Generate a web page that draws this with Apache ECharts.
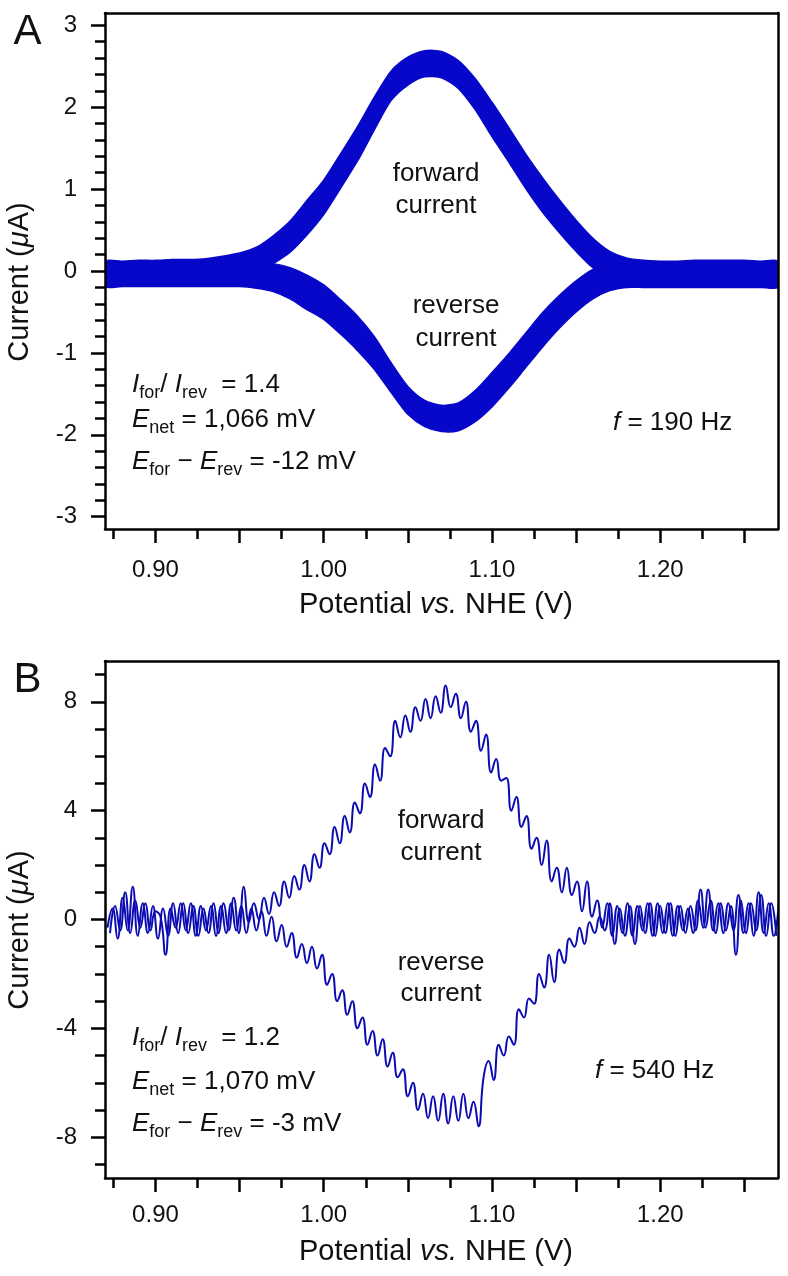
<!DOCTYPE html>
<html><head><meta charset="utf-8">
<script src="https://cdn.jsdelivr.net/npm/echarts@6/dist/echarts.min.js"></script>
<style>html,body{margin:0;padding:0;background:#fff}#c{width:788px;height:1276px}</style>
</head><body><div id="c"></div>
<script>
// ---------------- Panel A data (noisy band: centre + vertical half-width of the noise) ----------------
const A_potential = [0.87,0.88,0.89,0.90,0.91,0.92,0.93,0.94,0.95,0.96,
  0.97,0.98,0.99,1.00,1.01,1.02,1.03,1.04,1.05,1.06,
  1.07,1.08,1.09,1.10,1.11,1.12,1.13,1.14,1.15,1.16,
  1.17,1.18,1.19,1.20,1.21,1.22,1.23,1.24,1.25,1.26,1.27];
const A_forward = [-0.03,-0.03,-0.02,-0.02,-0.01,-0.01,0.00,0.03,0.07,0.13,
  0.26,0.42,0.65,0.90,1.22,1.55,1.92,2.26,2.44,2.53,
  2.52,2.40,2.16,1.85,1.54,1.22,0.93,0.67,0.43,0.22,
  0.08,0.01,-0.02,-0.03,-0.03,-0.02,-0.02,-0.02,-0.02,-0.03,-0.03];
const A_reverse = [-0.04,-0.04,-0.04,-0.04,-0.04,-0.04,-0.04,-0.04,-0.04,-0.05,
  -0.08,-0.15,-0.26,-0.38,-0.56,-0.76,-1.00,-1.30,-1.58,-1.74,
  -1.80,-1.78,-1.65,-1.45,-1.22,-0.97,-0.72,-0.50,-0.31,-0.16,
  -0.08,-0.05,-0.05,-0.05,-0.05,-0.05,-0.05,-0.05,-0.05,-0.05,-0.05];
const A_noiseHalfWidth = [0.15,0.15,0.15,0.15,0.15,0.15,0.15,0.15,0.15,0.16,
  0.17,0.19,0.21,0.21,0.21,0.21,0.20,0.18,0.17,0.16,
  0.16,0.17,0.19,0.21,0.21,0.21,0.21,0.20,0.19,0.18,
  0.16,0.15,0.15,0.15,0.15,0.15,0.15,0.15,0.15,0.15,0.15];
const A_yLabels = [-3,-2,-1,0,1,2,3];
const A_yMinor = [-3,-2.8,-2.6,-2.4,-2.2,-2,-1.8,-1.6,-1.4,-1.2,-1,-0.8,-0.6,-0.4,-0.2,0,
  0.2,0.4,0.6,0.8,1,1.2,1.4,1.6,1.8,2,2.2,2.4,2.6,2.8,3];

const B_step = 0.003;
const B_forwardStart = 0.8715;
const B_reverseStart = 0.8730;
const B_forward = [
  -0.3,0.4,-0.7,0.8,-0.4,1.2,-0.6,0.6,-0.5,0.5,
  -0.7,0.4,-0.6,0.6,-0.5,0.6,-0.5,0.5,-0.6,0.4,
  -0.5,0.6,-0.5,0.6,-0.4,0.8,-0.5,1.2,-0.1,0.6,
  0.0,0.8,0.2,1.0,0.5,1.4,0.8,1.6,1.1,2.0,
  1.4,2.4,1.9,2.8,2.4,3.4,2.8,3.8,3.2,4.3,
  3.9,5.0,4.5,5.7,5.1,6.3,6.0,7.3,6.7,7.5,
  6.9,7.8,7.3,8.1,7.4,8.2,7.6,8.6,7.8,8.3,
  7.4,8.0,6.9,7.3,6.2,6.8,5.4,5.9,5.1,5.2,
  4.0,4.5,3.4,3.8,2.6,3.0,2.0,2.9,1.4,1.9,
  1.0,1.9,0.9,1.4,0.3,1.4,0.1,0.7,-0.3,0.6,
  -0.6,0.5,-0.5,0.6,-0.6,0.5,-0.4,0.6,-0.6,0.6,
  -0.5,0.6,-0.6,0.5,-0.4,0.4,-0.5,0.7,-0.3,1.1,
  -0.4,0.6,-0.5,0.6,-0.4,0.9,-0.5,0.6,-0.6,1.0,
  -0.5,0.6,-0.6,0.6];
const B_reverse = [
  -0.5,0.5,-0.4,1.0,-0.5,0.7,-0.3,0.6,-0.4,0.3,
  0.1,-1.3,0.4,-0.3,0.6,-0.4,0.6,-0.6,0.5,-0.4,
  0.5,-0.6,0.5,-0.5,0.6,-0.4,0.5,-0.5,0.4,-0.4,
  0.3,-0.6,0.1,-0.8,-0.2,-1.0,-0.5,-1.4,-0.9,-1.6,
  -1.0,-1.8,-1.3,-2.4,-2.0,-3.0,-2.6,-3.5,-3.0,-4.0,
  -3.6,-4.6,-4.1,-5.0,-4.4,-5.4,-4.9,-5.8,-5.5,-6.5,
  -6.0,-7.0,-6.4,-7.3,-6.5,-7.4,-6.4,-7.5,-6.5,-7.4,
  -6.4,-7.3,-6.7,-7.6,-5.8,-5.2,-5.9,-4.6,-5.0,-4.3,
  -4.6,-3.3,-3.6,-2.9,-3.1,-2.0,-2.5,-1.3,-2.3,-1.1,
  -1.6,-0.7,-1.0,-0.3,-0.9,-0.1,-0.5,0.1,-0.4,0.6,
  -0.9,0.4,-0.6,0.5,-0.9,0.5,-0.5,0.6,-0.6,0.5,
  -0.5,0.6,-0.6,0.5,-0.5,0.5,-0.4,1.1,-0.3,0.7,
  -0.5,0.6,-0.4,0.5,-1.3,0.7,-0.5,0.6,-0.4,0.9,
  -0.6,0.6,-0.6];
const B_yLabels = [-8,-4,0,4,8];
const B_yMinor = [-9,-8,-7,-6,-5,-4,-3,-2,-1,0,1,2,3,4,5,6,7,8,9];

// ---------------- shared x axis ----------------
const X_MIN = 0.87, X_MAX = 1.27;
const xLabels = [0.90,1.00,1.10,1.20];
const xMajorTicks = [0.90,0.95,1.00,1.05,1.10,1.15,1.20,1.25];
const xMinorTicks = [0.875,0.925,0.975,1.025,1.075,1.125,1.175,1.225];

const FONT = '"Liberation Sans", Arial, Helvetica, sans-serif';
const INK = '#111';
const BLUE_A = '#0707c9';
const BLUE_B = '#0b0bb2';

function xAxes(g, margin) {
  return [
    {gridIndex:g,type:'value',min:X_MIN,max:X_MAX,position:'bottom',z:10,
     axisLine:{show:true,onZero:false,lineStyle:{color:'#000',width:2.5}},
     axisTick:{show:true,inside:false,length:14,customValues:xMajorTicks,lineStyle:{color:'#000',width:2.5}},
     axisLabel:{show:true,customValues:xLabels,formatter:v=>v.toFixed(2),fontSize:24,fontFamily:FONT,color:INK,margin:margin},
     splitLine:{show:false}},
    {gridIndex:g,type:'value',min:X_MIN,max:X_MAX,position:'bottom',z:10,
     axisLine:{show:false,onZero:false},
     axisTick:{show:true,inside:false,length:10,customValues:xMinorTicks,lineStyle:{color:'#000',width:2.5}},
     axisLabel:{show:false},splitLine:{show:false}},
    {gridIndex:g,type:'value',min:X_MIN,max:X_MAX,position:'top',z:10,
     axisLine:{show:true,onZero:false,lineStyle:{color:'#000',width:2.5}},
     axisTick:{show:false},axisLabel:{show:false},splitLine:{show:false}}
  ];
}
function yAxes(g, lim, labels, minor) {
  return [
    {gridIndex:g,type:'value',min:-lim,max:lim,position:'left',z:10,
     axisLine:{show:true,onZero:false,lineStyle:{color:'#000',width:2.5}},
     axisTick:{show:true,inside:false,length:14,customValues:labels,lineStyle:{color:'#000',width:2.5}},
     axisLabel:{show:true,customValues:labels,formatter:v=>String(v),fontSize:24,fontFamily:FONT,color:INK,margin:28},
     splitLine:{show:false}},
    {gridIndex:g,type:'value',min:-lim,max:lim,position:'left',z:10,
     axisLine:{show:false,onZero:false},
     axisTick:{show:true,inside:false,length:10,customValues:minor,lineStyle:{color:'#000',width:2.5}},
     axisLabel:{show:false},splitLine:{show:false}},
    {gridIndex:g,type:'value',min:-lim,max:lim,position:'right',z:10,
     axisLine:{show:true,onZero:false,lineStyle:{color:'#000',width:2.5}},
     axisTick:{show:false},axisLabel:{show:false},splitLine:{show:false}}
  ];
}

// Noisy band of panel A: one polygon (upper edge forward, lower edge back), placed through the axes
function bandSeries(center) {
  return {
    type:'custom', xAxisIndex:0, yAxisIndex:0, silent:true, z:2,
    data: A_potential.map((v,i)=>[v, center[i]]),
    renderItem: function (params, api) {
      if (params.dataIndex !== 0) return null;
      const up = [], lo = [];
      for (let i = 0; i < A_potential.length; i++) {
        up.push(api.coord([A_potential[i], center[i] + A_noiseHalfWidth[i]]));
        lo.push(api.coord([A_potential[i], center[i] - A_noiseHalfWidth[i]]));
      }
      const cs = params.coordSys;
      return {
        type:'polygon',
        shape:{points: up.concat(lo.reverse()), smooth:0.25},
        style:{fill:BLUE_A, stroke:BLUE_A, lineWidth:1.5},
        clipPath:{type:'rect', shape:{x:cs.x, y:cs.y, width:cs.width, height:cs.height}}
      };
    }
  };
}
function traceSeries(start, vals) {
  return {type:'line',xAxisIndex:3,yAxisIndex:3,symbol:'none',smooth:0.5,silent:true,
    data: vals.map((y,i)=>[start + i*B_step, y]),
    lineStyle:{width:2,color:BLUE_B},z:2};
}

function mkRich(fs) {
  return {
    n:{fontSize:fs,fontFamily:FONT,fill:INK,lineHeight:34,verticalAlign:'middle'},
    i:{fontSize:fs,fontFamily:FONT,fontStyle:'italic',fill:INK,lineHeight:34,verticalAlign:'middle'},
    s:{fontSize:Math.round(fs*0.68),fontFamily:FONT,fill:INK,lineHeight:18,verticalAlign:'bottom'}
  };
}
function txt(x, y, text, fs, align, extra) {
  return Object.assign({type:'text',x:x,y:y,silent:true,z:100,
    style:{text:text,fontSize:fs,fontFamily:FONT,fill:INK,align:align,verticalAlign:'middle',
      textAlign:align,textVerticalAlign:'middle',rich:mkRich(fs)}}, extra||{});
}
const AF = 26;
const graphics = [
  txt(27.5, 32, 'A', 42, 'center'),
  txt(27.5, 680, 'B', 42, 'center'),
  txt(436, 605, '{n|Potential }{i|vs.}{n| NHE (V)}', 29, 'center'),
  txt(436, 1252, '{n|Potential }{i|vs.}{n| NHE (V)}', 29, 'center'),
  txt(20, 282, '{n|Current (}{i|\u03BC}{n|A)}', 29, 'center', {rotation:Math.PI/2}),
  txt(20, 930, '{n|Current (}{i|\u03BC}{n|A)}', 29, 'center', {rotation:Math.PI/2}),
  // panel A annotations
  txt(436, 174, 'forward', AF, 'center'),
  txt(436, 206, 'current', AF, 'center'),
  txt(456, 306, 'reverse', AF, 'center'),
  txt(456, 339, 'current', AF, 'center'),
  txt(132, 385, '{i|I}{s|for}{n|/ }{i|I}{s|rev}{n|  = 1.4}', AF, 'left'),
  txt(132, 420, '{i|E}{s|net}{n| = 1,066 mV}', AF, 'left'),
  txt(132, 462, '{i|E}{s|for}{n| \u2212 }{i|E}{s|rev}{n| = -12 mV}', AF, 'left'),
  txt(613, 423, '{i|f}{n| = 190 Hz}', AF, 'left'),
  // panel B annotations
  txt(441, 821, 'forward', AF, 'center'),
  txt(441, 853, 'current', AF, 'center'),
  txt(441, 963, 'reverse', AF, 'center'),
  txt(441, 994, 'current', AF, 'center'),
  txt(132, 1038, '{i|I}{s|for}{n|/ }{i|I}{s|rev}{n|  = 1.2}', AF, 'left'),
  txt(132, 1082, '{i|E}{s|net}{n| = 1,070 mV}', AF, 'left'),
  txt(132, 1124, '{i|E}{s|for}{n| \u2212 }{i|E}{s|rev}{n| = -3 mV}', AF, 'left'),
  txt(595, 1071, '{i|f}{n| = 540 Hz}', AF, 'left')
];

const chart = echarts.init(document.getElementById('c'), null, {renderer:'canvas'});
chart.setOption({
  animation:false,
  backgroundColor:'#fff',
  grid:[
    {left:105,top:13,width:673,height:516,containLabel:false,outerBoundsMode:'none'},
    {left:105,top:661,width:673,height:517,containLabel:false,outerBoundsMode:'none'}
  ],
  xAxis:[].concat(xAxes(0, 29), xAxes(1, 25)),
  yAxis:[].concat(yAxes(0, 3.15, A_yLabels, A_yMinor), yAxes(1, 9.5, B_yLabels, B_yMinor)),
  series:[bandSeries(A_forward), bandSeries(A_reverse),
    traceSeries(B_forwardStart, B_forward), traceSeries(B_reverseStart, B_reverse)],
  graphic:{elements:graphics}
});
</script></body></html>
